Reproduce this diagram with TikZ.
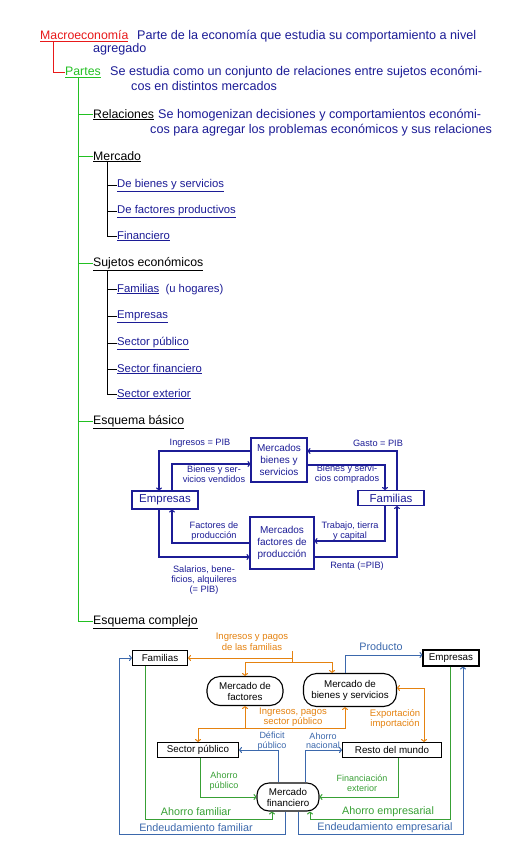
\documentclass[tikz,border=0pt]{standalone}
\usepackage{fontspec}
\setmainfont{Liberation Sans}
\usetikzlibrary{arrows.meta,calc}
\definecolor{navy}{HTML}{1C1C96}
\definecolor{mred}{HTML}{E8191A}
\definecolor{mgreen}{HTML}{22C022}
\definecolor{corange}{HTML}{E5820F}
\definecolor{cblue}{HTML}{3B68AC}
\definecolor{cgreen}{HTML}{38A035}
\begin{document}
\begin{tikzpicture}[x=1pt,y=-1pt,
 txt/.style={anchor=base west,inner sep=0pt,font=\fontsize{12.3}{13}\selectfont},
 dsc/.style={txt,text=navy,font=\fontsize{12.6}{13}\selectfont},
 leaf/.style={txt,text=navy,font=\fontsize{11.3}{13}\selectfont},
 tline/.style={line width=0.9pt},
 bbox/.style={draw=navy,line width=1.1pt,text=navy,align=center,inner sep=0pt,font=\fontsize{10}{12}\selectfont},
 blab/.style={text=navy,align=center,inner sep=0pt,font=\fontsize{9.2}{10}\selectfont},
 barr/.style={draw=navy,line width=1.1pt,-{To[length=3pt,width=6pt]}},
 cbox/.style={draw=black,line width=1.1pt,inner sep=0pt,align=center,font=\fontsize{9.8}{11}\selectfont},
 cround/.style={cbox,rounded corners=13pt},
 tip/.style={-{To[length=3pt,width=6pt]}},
 oarr/.style={draw=corange,line width=1pt,tip},
 oboth/.style={draw=corange,line width=1pt,{To[length=3pt,width=6pt]}-{To[length=3pt,width=6pt]}},
 blarr/.style={draw=cblue,line width=1pt,tip},
 garr/.style={draw=cgreen,line width=1pt,tip},
 olab/.style={text=corange,align=center,inner sep=0pt,font=\fontsize{9.5}{10.5}\selectfont},
 bllab/.style={text=cblue,align=center,inner sep=0pt,font=\fontsize{9}{9.5}\selectfont},
 glab/.style={text=cgreen,align=center,inner sep=0pt,font=\fontsize{9}{9.5}\selectfont},
 big/.style={font=\fontsize{10.8}{11}\selectfont}
]
\fill[white] (0,0) rectangle (530,848);
\useasboundingbox (0,0) rectangle (530,848);

% ---------- outline tree ----------
\node[txt,text=mred] (macro) at (40,40) {\underline{Macroeconomía}};
\node[dsc] (macrod1) at (137,40) {Parte de la economía que estudia su comportamiento a nivel};
\node[dsc] (macrod2) at (93,53) {agregado};
\node[txt,text=mgreen] (partes) at (65,76) {\underline{Partes}};
\node[dsc] (partesd1) at (110,76) {Se estudia como un conjunto de relaciones entre sujetos económi-};
\node[dsc] (partesd2) at (131,91) {cos en distintos mercados};
\node[txt] (relac) at (93,118) {\underline{Relaciones}};
\node[dsc] (relacd1) at (158,118) {Se homogenizan decisiones y comportamientos económi-};
\node[dsc] (relacd2) at (150,133) {cos para agregar los problemas económicos y sus relaciones};
\node[txt] (merc) at (93,160) {\underline{Mercado}};
\node[leaf] (m1) at (117,187) {\underline{De bienes y servicios}};
\node[leaf] (m2) at (117,213) {\underline{De factores productivos}};
\node[leaf] (m3) at (117,239) {\underline{Financiero}};
\node[txt] (suj) at (93,266) {\underline{Sujetos económicos}};
\node[leaf] (s1) at (117,292) {\underline{Familias}\ \ (u hogares)};
\node[leaf] (s2) at (117,318) {\underline{Empresas}};
\node[leaf] (s3) at (117,345) {\underline{Sector público}};
\node[leaf] (s4) at (117,372) {\underline{Sector financiero}};
\node[leaf] (s5) at (117,397) {\underline{Sector exterior}};
\node[txt] (eb) at (93,424) {\underline{Esquema básico}};
\node[txt] (ec) at (93,624) {\underline{Esquema complejo}};

\draw[mred,tline] ([xshift=13pt]macro.south west) |- (partes.west);
\coordinate (gx) at ([xshift=13pt]partes.south west);
\foreach \n in {relac,merc,suj,eb,ec} \draw[mgreen,tline] (gx) |- (\n.west);
\foreach \n in {m1,m2,m3} \draw[tline] ([xshift=14pt]merc.south west) |- (\n.west);
\foreach \n in {s1,s2,s3,s4,s5} \draw[tline] ([xshift=14pt]suj.south west) |- (\n.west);

% ---------- basic scheme ----------
\node[bbox,minimum width=56pt,minimum height=44pt] (bmbs) at (279,460) {Mercados\\bienes y\\servicios};
\node[bbox,minimum width=64pt,minimum height=52pt] (bmfp) at (282,543) {Mercados\\factores de\\producción};
\node[bbox,minimum width=66pt,minimum height=18pt,font=\fontsize{11.5}{12}\selectfont] (bemp) at (165,500) {Empresas};
\node[bbox,minimum width=66pt,minimum height=15pt,font=\fontsize{11.5}{12}\selectfont] (bfam) at (391,498) {Familias};

\draw[barr] ([yshift=9pt]bmbs.west) -| ([xshift=-6pt]bemp.north);
\draw[barr] ([xshift=7pt]bemp.north) |- ([yshift=-4pt]bmbs.west);
\draw[barr] ([xshift=6pt]bfam.north) |- ([yshift=9pt]bmbs.east);
\draw[barr] ([yshift=-5pt]bmbs.east) -| ([xshift=-6pt]bfam.north);
\draw[barr] ([xshift=-6pt]bfam.south) |- ([yshift=2pt]bmfp.east);
\draw[barr] ([yshift=-14pt]bmfp.east) -| ([xshift=6pt]bfam.south);
\draw[barr] (bmfp.west) -| ([xshift=7pt]bemp.south);
\draw[barr] ([xshift=-6pt]bemp.south) |- ([yshift=-14pt]bmfp.west);

\node[blab] (l1) at (200,443) {Ingresos = PIB};
\node[blab] (l2) at (214,474) {Bienes y ser-\\vicios vendidos};
\node[blab] (l3) at (378,443) {Gasto = PIB};
\node[blab] (l4) at (347,474) {Bienes y servi-\\cios comprados};
\node[blab] (l5) at (214,531) {Factores de\\producción};
\node[blab] (l6) at (350,531) {Trabajo, tierra\\y capital};
\node[blab] (l7) at (204,580) {Salarios, bene-\\ficios, alquileres\\(= PIB)};
\node[blab] (l8) at (357,566) {Renta (=PIB)};

% ---------- complex scheme ----------
\node[cbox,minimum width=55pt,minimum height=15pt] (cfam) at (160,658) {Familias};
\node[cbox,minimum width=56pt,minimum height=16pt] (cemp) at (451,658) {Empresas};
\node[cround,minimum width=76pt,minimum height=29pt] (cmf) at (245,691) {Mercado de\\factores};
\node[cround,minimum width=93pt,minimum height=33pt] (cmbs) at (350,690) {Mercado de\\bienes y servicios};
\node[cbox,minimum width=81pt,minimum height=15pt] (csp) at (198,750) {Sector público};
\node[cbox,minimum width=99pt,minimum height=15pt] (crm) at (392,750) {Resto del mundo};
\node[cround,minimum width=62pt,minimum height=28pt,rounded corners=12pt] (cfin) at (288,797) {Mercado\\financiero};

% orange
\node[olab] (ol1) at (252,642) {Ingresos y pagos\\de las familias};
\coordinate (oj1) at (292,651);
\coordinate (oj2) at (292,662);
\draw[corange,line width=1pt] (oj1) -- (oj2);
\draw[oarr] (oj1 |- cfam.east) -- (cfam.east);
\draw[oarr] (oj2) -| (cmf.north);
\draw[oarr] (oj2) -| ([xshift=-18pt]cmbs.north);
\coordinate (oj3) at (245,728);
\draw[oarr] (oj3) -- (cmf.south);
\draw[oarr] (oj3) -| (csp.north);
\draw[oarr] (oj3) -| ([xshift=-5pt]cmbs.south);
\node[olab] (ol2) at (293,717) {Ingresos, pagos\\sector público};
\draw[oboth] ([yshift=2pt]cmbs.east) -| ([xshift=32pt]crm.north);
\node[olab] (ol3) at (395,719) {Exportación\\importación};

% blue
\draw[blarr] ([xshift=-5pt]cmbs.north) |- ([yshift=3pt]cemp.west);
\node[bllab,big] (bl1) at (381,647) {Producto};
\draw[blarr] ([xshift=-10pt]cfin.north) |- (csp.east);
\node[bllab] (bl2) at (272,741) {Déficit\\público};
\draw[blarr] ([xshift=17pt]cfin.north) |- (crm.west);
\node[bllab] (bl3) at (323,741) {Ahorro\\nacional};
\coordinate (bL) at (119,834);
\coordinate (bR) at (463,834);
\draw[blarr] ([xshift=-3pt]cfin.south) |- (bL) |- (cfam.west);
\draw[blarr] ([xshift=10pt]cfin.south) |- (bR) -- (bR |- cemp.south);
\node[bllab,big] (bl4) at (196,828) {Endeudamiento familiar};
\node[bllab,big] (bl5) at (385,828) {Endeudamiento empresarial};

% green
\draw[garr] ([xshift=2pt]csp.south) |- (cfin.west);
\node[glab] (gl1) at (224,781) {Ahorro\\público};
\draw[garr] ([xshift=6pt]crm.south) |- (cfin.east);
\node[glab] (gl2) at (362,783) {Financiación\\exterior};
\coordinate (gL) at (145,819);
\coordinate (gR) at (450,819);
\draw[garr] (gL |- cfam.south) -- (gL) -| ([xshift=-16pt]cfin.south);
\draw[garr] (gR |- cemp.south) -- (gR) -| ([xshift=22pt]cfin.south);
\node[glab,big] (gl3) at (196,812) {Ahorro familiar};
\node[glab,big] (gl4) at (388,812) {Ahorro empresarial};
\end{tikzpicture}
\end{document}
